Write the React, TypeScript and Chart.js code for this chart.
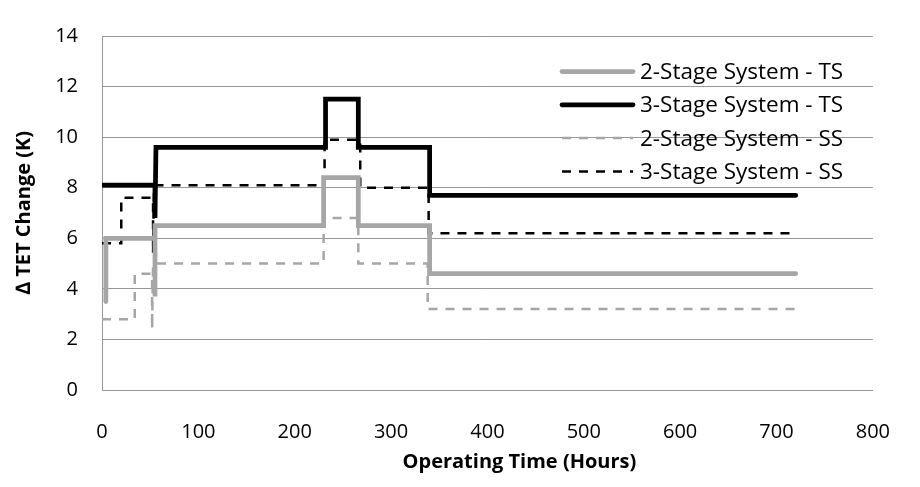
import React, { useEffect, useRef } from "react";
import { Chart, registerables } from "chart.js";

Chart.register(...registerables);

// 2-Stage System - TS
const hours2TS = [4, 4, 55, 55, 55, 230, 230, 266, 266, 340, 340, 720];
const vals2TS = [3.5, 6.0, 6.0, 3.7, 6.5, 6.5, 8.4, 8.4, 6.5, 6.5, 4.6, 4.6];

// 3-Stage System - TS
const hours3TS = [0, 55, 55, 56, 232, 232, 266, 266, 340, 340, 720];
const vals3TS = [8.1, 8.1, 6.8, 9.6, 9.6, 11.5, 11.5, 9.6, 9.6, 7.7, 7.7];

// 2-Stage System - SS
const hours2SS = [0, 34, 34, 52, 52, 53, 230, 230, 266, 266, 338, 338, 720];
const vals2SS = [2.8, 2.8, 4.6, 4.6, 2.4, 5.0, 5.0, 6.8, 6.8, 5.0, 5.0, 3.2, 3.2];

// 3-Stage System - SS
const hours3SS = [0, 20, 20, 53, 53, 54, 231, 231, 268, 268, 339, 339, 720];
const vals3SS = [5.8, 5.8, 7.6, 7.6, 5.4, 8.1, 8.1, 9.9, 9.9, 8.0, 8.0, 6.2, 6.2];

const seriesLabels = [
  "2-Stage System - TS",
  "3-Stage System - TS",
  "2-Stage System - SS",
  "3-Stage System - SS",
];

const xTitle = "Operating Time (Hours)";
const yTitle = "\u2206 TET Change (K)";

const FONT = "'Open Sans', Lato, sans-serif";

const toPoints = (xs: number[], ys: number[]) => xs.map((x, i) => ({ x, y: ys[i] }));

const legendPlugin = {
  id: "insideLegend",
  afterDatasetsDraw(chart: any) {
    const { ctx, chartArea } = chart;
    const x0 = chartArea.left + 460;
    const x1 = x0 + 71;
    const tx = x1 + 7;
    chart.data.datasets.forEach((ds: any, i: number) => {
      const y = chartArea.top + 35.5 + i * 33.3;
      ctx.save();
      ctx.strokeStyle = ds.borderColor;
      ctx.lineWidth = ds.borderWidth;
      ctx.setLineDash(ds.borderDash || []);
      ctx.lineCap = ds.borderCapStyle || "butt";
      ctx.beginPath();
      ctx.moveTo(x0, y);
      ctx.lineTo(x1, y);
      ctx.stroke();
      ctx.setLineDash([]);
      ctx.fillStyle = "#000";
      ctx.font = `22.5px ${FONT}`;
      ctx.textAlign = "left";
      ctx.textBaseline = "middle";
      ctx.fillText(ds.label, tx, y + 1);
      ctx.restore();
    });
  },
};

const xTitlePlugin = {
  id: "xAxisTitle",
  afterDraw(chart: any) {
    const { ctx, chartArea } = chart;
    ctx.save();
    ctx.fillStyle = "#000";
    ctx.font = `bold 20px ${FONT}`;
    ctx.textAlign = "center";
    ctx.textBaseline = "middle";
    ctx.fillText(xTitle, (chartArea.left + chartArea.right) / 2 + 32, chartArea.bottom + 72);
    ctx.restore();
  },
};

export default function App() {
  const canvasRef = useRef<HTMLCanvasElement | null>(null);

  useEffect(() => {
    if (!canvasRef.current) return;
    const chart = new Chart(canvasRef.current, {
      type: "line",
      data: {
        datasets: [
          {
            label: seriesLabels[0],
            data: toPoints(hours2TS, vals2TS),
            borderColor: "#a6a6a6",
            borderWidth: 4.75,
            borderCapStyle: "round",
            borderJoinStyle: "miter",
            pointRadius: 0,
            fill: false,
            tension: 0,
          },
          {
            label: seriesLabels[1],
            data: toPoints(hours3TS, vals3TS),
            borderColor: "#000000",
            borderWidth: 4.75,
            borderCapStyle: "round",
            borderJoinStyle: "miter",
            pointRadius: 0,
            fill: false,
            tension: 0,
          },
          {
            label: seriesLabels[2],
            data: toPoints(hours2SS, vals2SS),
            borderColor: "#a6a6a6",
            borderWidth: 2.5,
            borderDash: [9, 8],
            borderCapStyle: "butt",
            pointRadius: 0,
            fill: false,
            tension: 0,
          },
          {
            label: seriesLabels[3],
            data: toPoints(hours3SS, vals3SS),
            borderColor: "#000000",
            borderWidth: 2.5,
            borderDash: [9, 8],
            borderCapStyle: "butt",
            pointRadius: 0,
            fill: false,
            tension: 0,
          },
        ] as any,
      },
      options: {
        animation: false,
        responsive: false,
        maintainAspectRatio: false,
        layout: { padding: { top: 17, right: 29, left: 0, bottom: 0 } },
        plugins: {
          legend: { display: false },
          tooltip: { enabled: false },
        },
        scales: {
          x: {
            type: "linear",
            min: 0,
            max: 800,
            ticks: {
              stepSize: 100,
              color: "#000",
              font: { family: FONT, size: 20 },
              padding: 30,
            },
            grid: { display: false, drawTicks: false },
            border: { display: true, color: "#989898", width: 1 },
            title: { display: false },
            afterFit: (s: any) => {
              s.height = 97;
            },
          },
          y: {
            min: 0,
            max: 14,
            ticks: {
              stepSize: 2,
              color: "#000",
              font: { family: FONT, size: 20 },
              padding: 24,
            },
            grid: { color: "#989898", lineWidth: 1, drawTicks: false },
            border: { display: true, color: "#989898", width: 1 },
            title: {
              display: true,
              text: yTitle,
              color: "#000",
              font: { family: FONT, size: 20, weight: "bold" },
              padding: { top: 12, bottom: 0 },
            },
            afterFit: (s: any) => {
              s.width = 102;
            },
          },
        },
      },
      plugins: [legendPlugin, xTitlePlugin],
    });
    return () => chart.destroy();
  }, []);

  return (
    <div style={{ position: "fixed", left: 0, top: 0, width: 920, height: 487, background: "#fff" }}>
      <canvas ref={canvasRef} width={920} height={487} style={{ width: 920, height: 487 }} />
    </div>
  );
}
